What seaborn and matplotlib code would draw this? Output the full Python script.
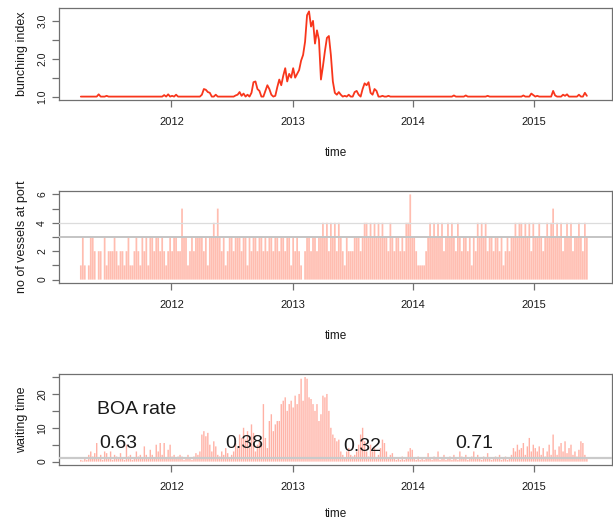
import numpy as np
import pandas as pd
import matplotlib
matplotlib.use("Agg")
import matplotlib.pyplot as plt
import seaborn as sns
from matplotlib import font_manager as fm

# ---------------- data (~6-day steps) ----------------
start_date = "2011-04-02"
step = "6D"

bunching = [
    1.0, 1.0, 1.0, 1.0, 1.0, 1.0, 1.0, 1.0, 1.0, 1.06,
    1.0, 1.0, 1.0, 1.02, 1.0, 1.0, 1.0, 1.0, 1.0, 1.0,
    1.0, 1.0, 1.0, 1.0, 1.0, 1.0, 1.0, 1.0, 1.0, 1.0,
    1.0, 1.0, 1.0, 1.0, 1.0, 1.0, 1.0, 1.0, 1.0, 1.0,
    1.0, 1.0, 1.04, 1.0, 1.06, 1.0, 1.02, 1.0, 1.05, 1.0,
    1.0, 1.0, 1.0, 1.0, 1.0, 1.0, 1.0, 1.0, 1.0, 1.0,
    1.0, 1.05, 1.2, 1.18, 1.12, 1.1, 1.0, 1.0, 1.05, 1.0,
    1.0, 1.0, 1.0, 1.0, 1.0, 1.0, 1.0, 1.0, 1.03, 1.05,
    1.12, 1.02, 1.08, 1.0, 1.05, 1.0, 1.1, 1.38, 1.4, 1.2,
    1.15, 1.0, 1.0, 1.15, 1.3, 1.2, 1.05, 1.0, 1.02, 1.25,
    1.45, 1.3, 1.55, 1.75, 1.4, 1.6, 1.5, 1.75, 1.5, 1.6,
    1.7, 1.95, 2.1, 2.45, 3.15, 3.25, 2.85, 3.0, 2.4, 2.75,
    2.5, 1.45, 1.8, 2.2, 2.55, 2.6, 2.1, 1.4, 1.1, 1.05,
    1.12, 1.05, 1.0, 1.02, 1.0, 1.05, 1.0, 1.0, 1.12, 1.15,
    1.05, 1.0, 1.2, 1.35, 1.3, 1.38, 1.1, 1.05, 1.2, 1.15,
    1.0, 1.0, 1.02, 1.0, 1.0, 1.02, 1.0, 1.0, 1.0, 1.0,
    1.0, 1.0, 1.0, 1.0, 1.0, 1.0, 1.0, 1.0, 1.0, 1.0,
    1.0, 1.0, 1.0, 1.0, 1.0, 1.0, 1.0, 1.0, 1.0, 1.0,
    1.0, 1.0, 1.0, 1.0, 1.0, 1.0, 1.0, 1.0, 1.03, 1.0,
    1.0, 1.0, 1.0, 1.0, 1.03, 1.0, 1.0, 1.0, 1.0, 1.0,
    1.0, 1.0, 1.0, 1.0, 1.0, 1.02, 1.0, 1.0, 1.0, 1.0,
    1.0, 1.0, 1.0, 1.0, 1.0, 1.0, 1.0, 1.0, 1.0, 1.0,
    1.0, 1.0, 1.0, 1.03, 1.0, 1.0, 1.0, 1.08, 1.04, 1.0,
    1.02, 1.0, 1.0, 1.0, 1.0, 1.0, 1.0, 1.0, 1.15, 1.03,
    1.0, 1.0, 1.0, 1.05, 1.02, 1.06, 1.0, 1.0, 1.0, 1.0,
    1.0, 1.05, 1.0, 1.0, 1.1, 1.02,
]

vessels = [
    1, 3, 1, 0, 1, 3, 3, 2, 0, 2,
    2, 0, 3, 1, 2, 2, 2, 3, 2, 1,
    2, 2, 1, 2, 3, 1, 1, 2, 3, 2,
    1, 3, 2, 3, 1, 3, 3, 2, 3, 3,
    2, 3, 2, 1, 2, 3, 2, 3, 3, 2,
    2, 5, 3, 3, 1, 2, 3, 2, 3, 3,
    3, 3, 2, 3, 1, 3, 3, 4, 3, 5,
    3, 2, 3, 1, 2, 3, 3, 2, 3, 3,
    3, 2, 3, 3, 1, 3, 2, 3, 3, 2,
    3, 3, 2, 3, 2, 3, 3, 2, 3, 3,
    2, 3, 3, 2, 3, 3, 1, 3, 2, 3,
    2, 1, 0, 2, 3, 3, 2, 3, 3, 2,
    3, 3, 4, 3, 4, 2, 4, 3, 4, 2,
    4, 3, 2, 1, 3, 2, 2, 2, 3, 3,
    3, 2, 3, 4, 4, 3, 4, 3, 4, 3,
    4, 3, 4, 3, 3, 2, 4, 3, 2, 3,
    3, 2, 3, 2, 4, 4, 6, 3, 3, 2,
    1, 1, 1, 1, 2, 3, 4, 3, 4, 3,
    4, 3, 4, 2, 3, 4, 3, 4, 3, 2,
    4, 3, 2, 3, 3, 2, 3, 1, 3, 2,
    4, 3, 4, 3, 4, 2, 3, 3, 2, 3,
    3, 2, 3, 1, 2, 3, 2, 3, 3, 4,
    3, 4, 4, 3, 4, 3, 4, 2, 4, 3,
    3, 4, 3, 2, 3, 4, 3, 4, 5, 3,
    4, 3, 4, 2, 3, 4, 3, 4, 2, 3,
    3, 4, 3, 2, 4, 3,
]

waiting = [
    0.5, 0.3, 1.0, 0.5, 2.0, 3.0, 1.5, 2.5, 5.5, 1.0,
    2.0, 0.5, 3.0, 2.5, 1.0, 3.0, 0.5, 2.0, 1.5, 1.0,
    2.5, 1.0, 0.5, 5.0, 1.5, 2.0, 0.5, 1.0, 3.0, 1.5,
    2.0, 1.0, 4.5, 2.0, 1.0, 3.5, 2.0, 1.0, 5.0, 3.0,
    5.5, 2.0, 5.5, 1.0, 3.5, 5.0, 1.5, 2.0, 1.0, 1.5,
    2.0, 1.5, 0.5, 1.0, 2.0, 1.0, 0.5, 1.5, 2.5, 2.0,
    3.0, 8.0, 9.0, 7.5, 8.5, 5.0, 3.0, 6.0, 4.5, 2.0,
    1.5, 3.0, 2.0, 4.0, 2.5, 1.0, 2.0, 3.0, 5.5, 4.0,
    8.0, 7.0, 10.0, 6.5, 9.0, 4.0, 11.0, 8.5, 3.0, 5.0,
    6.0, 5.0, 17.0, 7.0, 4.0, 12.0, 14.0, 9.0, 11.0, 12.0,
    12.0, 17.0, 18.0, 19.0, 15.0, 17.0, 18.0, 16.0, 19.5, 17.0,
    20.0, 24.5, 18.0, 25.0, 24.5, 19.0, 18.5, 17.0, 15.0, 17.0,
    12.0, 14.0, 19.5, 19.0, 20.0, 15.0, 10.0, 8.0, 7.0, 6.0,
    6.5, 3.0, 2.0, 1.0, 3.0, 4.0, 2.0, 1.5, 2.0, 3.0,
    5.0, 8.0, 10.0, 6.0, 3.0, 1.5, 5.0, 3.0, 4.0, 1.0,
    2.0, 4.0, 6.5, 5.5, 3.0, 1.0, 2.0, 2.5, 1.0, 0.5,
    1.0, 0.5, 1.5, 0.5, 1.0, 3.0, 4.0, 3.5, 1.0, 0.5,
    1.5, 0.5, 1.0, 0.5, 1.0, 2.5, 1.0, 0.5, 1.5, 1.0,
    3.0, 0.5, 1.0, 2.0, 0.5, 1.0, 1.5, 0.5, 2.0, 1.0,
    0.5, 3.0, 1.5, 1.0, 2.0, 0.5, 1.0, 1.5, 3.0, 1.0,
    2.0, 1.0, 0.5, 1.5, 1.0, 2.5, 1.0, 0.5, 1.0, 1.5,
    1.0, 2.0, 0.5, 1.0, 1.5, 0.5, 1.0, 2.0, 4.0, 3.0,
    5.0, 3.5, 4.0, 5.5, 2.0, 4.5, 7.0, 3.0, 5.0, 4.0,
    3.0, 4.5, 2.0, 4.0, 1.5, 3.0, 5.0, 2.0, 8.0, 3.5,
    2.0, 4.5, 5.5, 3.0, 6.0, 2.5, 4.0, 5.0, 2.0, 3.0,
    1.5, 3.5, 6.0, 5.5, 2.0, 1.0,
]

year_ticks = ["2012", "2013", "2014", "2015"]
boa_title = "BOA rate"
boa_labels = ["0.63", "0.38", "0.32", "0.71"]
boa_dates = ["2011-07-23", "2012-08-07", "2013-07-31", "2014-07-05"]
boa_y = [5.3, 5.3, 4.5, 5.3]

# ---------------- styling ----------------
sns.set_style("ticks")
names = {f.name for f in fm.fontManager.ttflist}
regular = "Liberation Sans" if "Liberation Sans" in names else "DejaVu Sans"
plt.rcParams["font.family"] = [regular, "DejaVu Sans"]

frame_col = "#707070"
txt_col = "#1a1a1a"
dates = pd.date_range(start_date, periods=len(bunching), freq=step)
df = pd.DataFrame({"time": dates, "bunching": bunching,
                   "vessels": vessels, "waiting": waiting})

W, H = 613, 522
fig = plt.figure(figsize=(W / 100, H / 100), dpi=100)

def make_ax(top_px, bottom_px):
    left, right = 59, 612
    return fig.add_axes([left / W, 1 - bottom_px / H,
                         (right - left) / W, (bottom_px - top_px) / H])

ax1 = make_ax(8, 100)
ax2 = make_ax(191, 283)
ax3 = make_ax(374, 465)

xlim = (pd.Timestamp("2011-01-26"), pd.Timestamp("2015-08-25"))
xt = [pd.Timestamp(f"{y}-01-01") for y in year_ticks]

# top: bunching index line
sns.lineplot(data=df, x="time", y="bunching", ax=ax1, color="#f8361c", lw=1.3)

# middle: vessels at port (type = "h")
vl = ax2.vlines(df["time"], 0, df["vessels"], color="#ff5a3a", alpha=0.4, lw=1.25)
vl.set_snap(False)
ax2.axhline(4, color="#dcdcdc", lw=0.9, zorder=3)
ax2.axhline(3, color="#c4c4c4", lw=1.4, zorder=3)

# bottom: waiting time (type = "h")
vl3 = ax3.vlines(df["time"], 0, df["waiting"], color="#ff3c1e", alpha=0.4, lw=1.0)
vl3.set_snap(False)
ax3.axhline(1, color="#cacaca", lw=1.6, zorder=3)
ax3.text(pd.Timestamp("2011-09-17"), 15.5, boa_title, ha="center", va="center",
         fontsize=14, color=txt_col)
for lab, d, yv in zip(boa_labels, boa_dates, boa_y):
    ax3.text(pd.Timestamp(d), yv, lab, ha="center", va="center",
             fontsize=14, color=txt_col, zorder=5)

specs = [
    (ax1, "bunching index", (0.91, 3.34), [1.0, 1.5, 2.0, 2.5, 3.0],
     ["1.0", "", "2.0", "", "3.0"]),
    (ax2, "no of vessels at port", (-0.24, 6.24), [0, 1, 2, 3, 4, 5, 6],
     ["0", "", "2", "", "4", "", "6"]),
    (ax3, "waiting time", (-1.0, 25.9), [0, 5, 10, 15, 20, 25],
     ["0", "", "10", "", "20", ""]),
]
for i, (ax, ylab, ylim, yt, ytl) in enumerate(specs):
    ax.set_xlim(xlim)
    ax.set_ylim(ylim)
    ax.set_xticks(xt)
    ax.set_xticklabels(year_ticks, fontsize=8, color=txt_col)
    ax.set_yticks(yt)
    ax.set_yticklabels(ytl, fontsize=7.5, color=txt_col, rotation=90, va="center")
    ax.tick_params(axis="both", direction="out", length=5, width=0.9,
                   color=frame_col)
    ax.tick_params(axis="x", pad=7)
    ax.tick_params(axis="y", pad=3.5)
    for s in ax.spines.values():
        s.set_visible(True)
        s.set_color(frame_col)
        s.set_linewidth(0.9)
    ax.set_ylabel(ylab, fontsize=9, color=txt_col)
    ax.yaxis.label.set(rotation_mode="default", va="center", ha="center")
    ax.yaxis.set_label_coords(-37 / 553, 0.5)
    ax.set_xlabel("time", fontsize=8.5, color=txt_col)
    ax.xaxis.label.set(va="center", ha="center")
    h_px = ax.get_position().height * H
    off = 53 if i < 2 else 49
    ax.xaxis.set_label_coords(0.5, -off / h_px)
    ax.grid(False)

fig.savefig("out.png", dpi=100)
